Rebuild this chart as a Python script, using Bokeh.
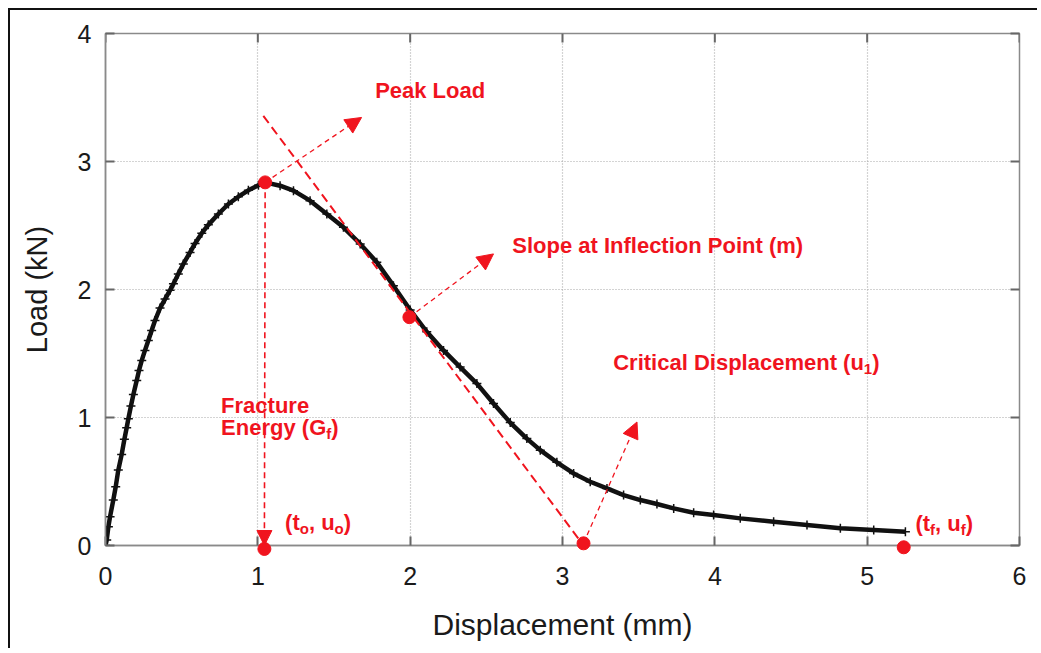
from bokeh.plotting import figure
from bokeh.models import (Range1d, FixedTicker, LinearAxis, Arrow, NormalHead,
                          Label, CustomJSTickFormatter)
from bokeh.embed import file_html
from bokeh.resources import INLINE

# ---- data ----
disp = [0.0, 0.008, 0.019, 0.030, 0.051, 0.067, 0.084, 0.106, 0.124, 0.139, 0.150,
        0.167, 0.183, 0.205, 0.220, 0.238, 0.259, 0.281, 0.303, 0.325, 0.358,
        0.391, 0.424, 0.446, 0.478, 0.511, 0.555, 0.588, 0.632, 0.675, 0.741,
        0.807, 0.872, 0.938, 1.004, 1.048, 1.146, 1.234, 1.343, 1.453, 1.562,
        1.672, 1.781, 1.890, 2.000, 2.109, 2.219, 2.328, 2.438, 2.547, 2.657,
        2.766, 2.854, 2.963, 3.073, 3.182, 3.292, 3.401, 3.511, 3.620, 3.730,
        3.861, 3.992, 4.167, 4.386, 4.605, 4.824, 5.043, 5.251]
load = [0.0, 0.043, 0.147, 0.225, 0.355, 0.459, 0.589, 0.710, 0.830, 0.920, 0.990,
        1.090, 1.180, 1.290, 1.368, 1.446, 1.524, 1.602, 1.680, 1.758, 1.855,
        1.925, 1.995, 2.044, 2.122, 2.200, 2.290, 2.360, 2.440, 2.505, 2.590,
        2.668, 2.725, 2.775, 2.815, 2.837, 2.811, 2.772, 2.694, 2.590, 2.486,
        2.356, 2.213, 2.030, 1.840, 1.670, 1.524, 1.394, 1.265, 1.109, 0.960,
        0.835, 0.745, 0.650, 0.563, 0.498, 0.446, 0.394, 0.355, 0.324, 0.290,
        0.256, 0.238, 0.212, 0.186, 0.160, 0.134, 0.121, 0.108]

# key points: peak, inflection, critical displacement, (t_o,u_o), (t_f,u_f)
peak = (1.048, 2.837)
inflection = (1.995, 1.784)
critical = (3.138, 0.017)
start_pt = (1.043, -0.027)
final_pt = (5.240, -0.014)
key_x = [peak[0], inflection[0], critical[0], start_pt[0], final_pt[0]]
key_y = [peak[1], inflection[1], critical[1], start_pt[1], final_pt[1]]

tangent_top = (1.036, 3.357)
arrow_tips = {"peak": (1.681, 3.344), "slope": (2.547, 2.278), "crit": (3.489, 0.965)}

x_ticks = [0, 1, 2, 3, 4, 5, 6]
y_ticks = [0, 1, 2, 3, 4]

RED = "#f0141e"
FONT = "Liberation Sans"
TICK_GREY = "#666666"

p = figure(width=1029, height=640, output_backend="svg", toolbar_location=None,
           x_range=Range1d(0, 6), y_range=Range1d(0, 4),
           min_border_left=95, min_border_right=20, min_border_top=23,
           min_border_bottom=105, x_axis_label="Displacement (mm)",
           y_axis_label="Load (kN)")
p.styles = {"margin-left": "8px", "margin-top": "8px",
            "border-left": "2px solid #111", "border-top": "2px solid #111"}

p.outline_line_color = "#8a8a8a"
p.outline_line_width = 1.5

for ax in (p.xaxis[0], p.yaxis[0]):
    ax.axis_line_color = "#8a8a8a"
    ax.axis_line_width = 1.5
    ax.major_tick_in = 9
    ax.major_tick_out = 0
    ax.major_tick_line_color = TICK_GREY
    ax.major_tick_line_width = 2
    ax.minor_tick_line_color = None
    ax.major_label_text_font = FONT
    ax.major_label_text_font_size = "25px"
    ax.major_label_text_color = "#1a1a1a"
    ax.axis_label_text_font = FONT
    ax.axis_label_text_font_style = "normal"
    ax.axis_label_text_color = "#1a1a1a"
p.xaxis[0].ticker = FixedTicker(ticks=x_ticks)
p.yaxis[0].ticker = FixedTicker(ticks=y_ticks)
p.xaxis[0].axis_label_text_font_size = "30px"
p.yaxis[0].axis_label_text_font_size = "29px"
p.xaxis[0].major_label_standoff = 21
p.xaxis[0].axis_label_standoff = 20
p.yaxis[0].major_label_standoff = 14
p.yaxis[0].axis_label_standoff = 22

blank = CustomJSTickFormatter(code="return ''")
right_ax = LinearAxis(ticker=FixedTicker(ticks=y_ticks), formatter=blank)
right_ax.axis_line_color = None
right_ax.major_tick_in = 9
right_ax.major_tick_out = 0
right_ax.major_tick_line_color = TICK_GREY
right_ax.major_tick_line_width = 2
right_ax.minor_tick_line_color = None
right_ax.major_label_standoff = 0
right_ax.major_label_text_font_size = "1px"
p.add_layout(right_ax, "right")

# inward tick marks along the top edge (9 px long)
top_len = 9 * 4 / 512
p.segment(x0=x_ticks, y0=[4] * len(x_ticks), x1=x_ticks,
          y1=[4 - top_len] * len(x_ticks), line_color=TICK_GREY, line_width=2)

p.xgrid.ticker = FixedTicker(ticks=x_ticks)
p.ygrid.ticker = FixedTicker(ticks=y_ticks)
for g in (p.xgrid[0], p.ygrid[0]):
    g.grid_line_color = "#a8a8a8"
    g.grid_line_dash = "1 2"
    g.grid_line_width = 1.2

# curve
p.line(disp, load, line_color="#111111", line_width=4.5)
p.scatter(disp, load, marker="cross", size=9, line_color="#111111", line_width=1.5)

# dashed vertical and tangent lines
p.add_layout(Arrow(x_start=peak[0], y_start=peak[1], x_end=start_pt[0], y_end=0.0,
                   line_color=RED, line_width=1.6, line_dash="6 4",
                   end=NormalHead(size=15, fill_color=RED, line_color=RED)))
p.line([tangent_top[0], critical[0]], [tangent_top[1], 0.0],
       line_color=RED, line_width=2, line_dash="9 5")

# thin arrows
for (sx, sy), key in ((peak, "peak"), (inflection, "slope"), (critical, "crit")):
    tx, ty = arrow_tips[key]
    p.add_layout(Arrow(x_start=sx, y_start=sy, x_end=tx, y_end=ty,
                       line_color=RED, line_width=1.3, line_dash="5 4",
                       end=NormalHead(size=16, fill_color=RED, line_color=RED)))

p.scatter(key_x, key_y, size=13, fill_color=RED, line_color=RED, level="overlay")

# ---- texts ----
W = {'(': .333, ')': .333, 't': .333, ',': .278, ' ': .278, 'u': .611, 'E': .667,
     'n': .611, 'e': .556, 'r': .389, 'g': .611, 'y': .556, 'G': .778, 'o': .611,
     'f': .333, '1': .556, 'C': .722, 'i': .278, 'c': .556, 'a': .556, 'l': .278,
     'D': .722, 's': .556, 'p': .611, 'm': .889}


def run(x, y, pieces, size=22):
    off = 0.0
    for txt, sub in pieces:
        fs = 15 if sub else size
        p.add_layout(Label(x=x, y=y, x_offset=off, y_offset=-6 if sub else 0, text=txt,
                           text_font=FONT, text_font_size=f"{fs}px",
                           text_font_style="bold", text_color=RED,
                           text_baseline="alphabetic", text_align="left"))
        off += sum(W.get(c, .6) for c in txt) * fs


run(1.770, 3.552, [("Peak Load", False)])
run(2.670, 2.343, [("Slope at Inflection Point (m)", False)])
run(3.333, 1.428, [("Critical Displacement (u", False), ("1", True), (")", False)])
run(0.759, 1.096, [("Fracture", False)])
run(0.759, 0.919, [("Energy (G", False), ("f", True), (")", False)])
run(1.179, 0.183, [("(t", False), ("o", True), (", u", False), ("o", True), (")", False)])
run(5.317, 0.175, [("(t", False), ("f", True), (", u", False), ("f", True), (")", False)])

open("out.html", "w").write(file_html(p, INLINE))
